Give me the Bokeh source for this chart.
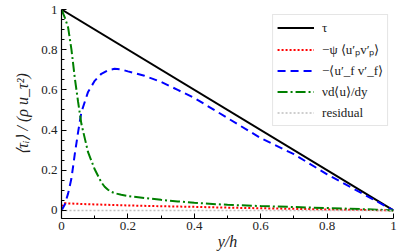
from bokeh.plotting import figure
from bokeh.models import Range1d, FixedTicker, Legend, LegendItem
from bokeh.embed import file_html
from bokeh.resources import INLINE

# ---- data ----
tau_x = [0.0, 1.0]
tau_y = [1.0, 0.0]

part_x = [0.0, 0.005, 0.01, 0.05, 0.10, 0.20, 0.30, 0.40, 0.50, 0.60, 0.70, 0.80, 0.90, 1.0]
part_y = [0.0, 0.032, 0.036, 0.033, 0.030, 0.025, 0.021, 0.018, 0.014, 0.011, 0.008, 0.005, 0.003, 0.0]

turb_x = [0.0, 0.01, 0.02, 0.03, 0.04, 0.05, 0.06, 0.08, 0.10, 0.12, 0.14, 0.16, 0.18, 0.20,
          0.25, 0.30, 0.35, 0.40, 0.50, 0.60, 0.70, 0.80, 0.90, 0.95, 1.0]
turb_y = [0.0, 0.03, 0.085, 0.16, 0.28, 0.39, 0.49, 0.59, 0.645, 0.68, 0.698, 0.705, 0.702, 0.692,
          0.67, 0.64, 0.60, 0.56, 0.46, 0.36, 0.28, 0.18, 0.09, 0.045, 0.0]

visc_x = [0.0, 0.01, 0.02, 0.03, 0.04, 0.05, 0.06, 0.08, 0.10, 0.12, 0.13, 0.14, 0.15, 0.16, 0.18,
          0.20, 0.25, 0.30, 0.35, 0.40, 0.50, 0.60, 0.70, 0.80, 0.90, 0.95, 1.0]
visc_y = [1.0, 0.96, 0.91, 0.80, 0.66, 0.54, 0.43, 0.29, 0.205, 0.14, 0.118, 0.103, 0.093, 0.086, 0.078,
          0.072, 0.062, 0.053, 0.045, 0.038, 0.028, 0.022, 0.017, 0.012, 0.007, 0.004, 0.0]

resid_x = [0.0, 0.25, 0.5, 0.75, 1.0]
resid_y = [0.0, 0.0, 0.0, 0.0, 0.0]

x_major = [0, 0.2, 0.4, 0.6, 0.8, 1]
x_minor = [0.1, 0.3, 0.5, 0.7, 0.9]
x_labels = ["0", "0.2", "0.4", "0.6", "0.8", "1"]
y_major = [0, 0.2, 0.4, 0.6, 0.8, 1]
y_minor = [0.05, 0.1, 0.15, 0.25, 0.3, 0.35, 0.45, 0.5, 0.55, 0.65, 0.7, 0.75, 0.85, 0.9, 0.95]
y_labels = ["0", "0.2", "0.4", "0.6", "0.8", "1"]

labels = ["τ", "−ψ ⟨u′ₚv′ₚ⟩", "−⟨u′_f v′_f⟩", "νd⟨u⟩/dy", "residual"]

SERIF = "Liberation Serif"

p = figure(width=407, height=252, output_backend="svg", toolbar_location=None,
           x_range=Range1d(0, 1), y_range=Range1d(-0.04, 1.0),
           min_border_left=61, min_border_right=14, min_border_top=9, min_border_bottom=32)
p.outline_line_color = None
p.grid.visible = False
p.background_fill_color = "white"

r_tau = p.line(tau_x, tau_y, line_color="black", line_width=2)
r_part = p.line(part_x, part_y, line_color="#ff0000", line_width=2, line_dash="2 2")
r_turb = p.line(turb_x, turb_y, line_color="#0000ff", line_width=2, line_dash="8 5")
r_visc = p.line(visc_x, visc_y, line_color="#008000", line_width=2, line_dash="10 3 2 3")
r_res = p.line(resid_x, resid_y, line_color="#bfbfbf", line_width=1.5, line_dash="2 2")

for ax, major, minor, labs in ((p.xaxis, x_major, x_minor, x_labels), (p.yaxis, y_major, y_minor, y_labels)):
    ax.ticker = FixedTicker(ticks=major, minor_ticks=minor)
    ax.major_label_overrides = {float(v): l for v, l in zip(major, labs)}
    ax.major_tick_in = 5
    ax.major_tick_out = 0
    ax.minor_tick_in = 3
    ax.minor_tick_out = 0
    ax.axis_line_width = 1.2
    ax.major_label_text_font = SERIF
    ax.major_label_text_font_size = "13px"
    ax.major_label_text_color = "#222222"
    ax.axis_label_text_font = SERIF
    ax.axis_label_text_font_size = "16px"
    ax.axis_label_text_font_style = "italic"
    ax.axis_label_text_color = "#222222"

p.xaxis.major_label_standoff = 3
p.xaxis.axis_label_standoff = 0
p.yaxis.major_label_standoff = 4
p.yaxis.axis_label_standoff = 7
p.xaxis.axis_label = "y/h"
p.yaxis.axis_label = "⟨τᵢ⟩ / (ρ u_τ²)"

legend = Legend(items=[LegendItem(label=l, renderers=[r]) for l, r in
                       zip(labels, [r_tau, r_part, r_turb, r_visc, r_res])],
                location="top_right")
legend.margin = 5
legend.padding = 4
legend.spacing = 4
legend.glyph_width = 37
legend.glyph_height = 17
legend.label_height = 17
legend.label_standoff = 8
legend.label_text_font = SERIF
legend.label_text_font_size = "13px"
legend.label_text_color = "#222222"
legend.border_line_color = "#cccccc"
legend.border_line_width = 1
legend.background_fill_alpha = 0.85
p.add_layout(legend)

open("out.html", "w").write(file_html(p, INLINE))
